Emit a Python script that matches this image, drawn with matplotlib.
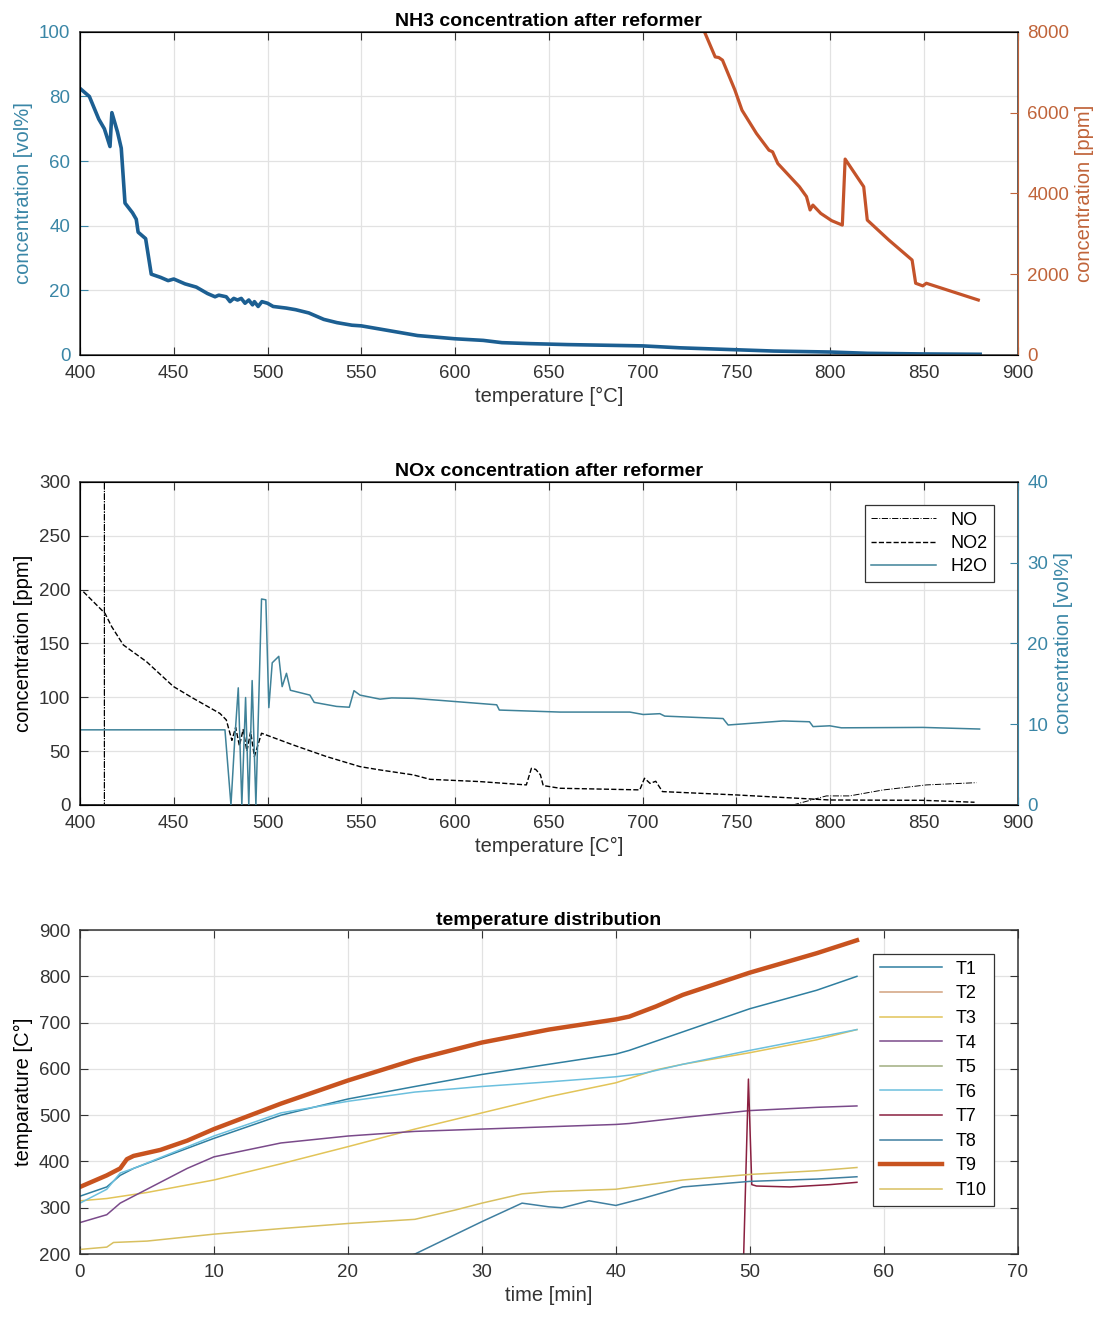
import matplotlib
matplotlib.use("Agg")
import matplotlib.pyplot as plt

plt.rcParams['font.family'] = ['Liberation Sans', 'DejaVu Sans']
plt.rcParams['font.size'] = 12

# --- NH3 after reformer ---
nh3_T = [400, 405, 410, 413, 416, 417, 420, 422, 424, 428, 430, 431, 435, 438, 443, 447, 450,
         456, 462, 468, 472, 474, 478, 480, 482, 484, 486, 488, 490, 492, 493, 495, 497, 500,
         503, 510, 515, 522, 530, 537, 545, 550, 560, 570, 580, 590, 600, 615, 625, 640, 660,
         680, 700, 720, 750, 770, 800, 820, 850, 880]
nh3_vol = [82.5, 80, 73, 70, 64.5, 75, 69, 64, 47, 44, 42, 38, 36, 25, 24, 23, 23.5,
           22, 21, 19, 18, 18.5, 18, 16.5, 17.5, 17, 17.5, 16, 17, 15.5, 16.5, 15, 16.5, 16,
           15, 14.5, 14, 13, 11, 10, 9.2, 9, 8, 7, 6, 5.5, 5, 4.5, 3.8, 3.5, 3.2,
           3, 2.8, 2.2, 1.6, 1.2, 0.9, 0.5, 0.3, 0.2]
ppm_T = [733, 738.7, 740.6, 742.6, 749.2, 753, 760.7, 767.4, 769.3, 772.1, 783.6, 787.4, 789.3,
         790.8, 795, 800.8, 806.5, 808, 817.9, 819.8, 831.3, 843.7, 845.6, 849.4, 851.3, 879]
ppm_val = [8000, 7380, 7365, 7300, 6560, 6060, 5485, 5070, 5030, 4740, 4165, 3920, 3590,
           3710, 3505, 3325, 3215, 4850, 4165, 3340, 2845, 2350, 1775, 1710, 1775, 1360]

# --- NOx after reformer ---
h2o_T = [400, 477.3, 480.5, 482.5, 484.4, 486.3, 488.3, 490, 491.8, 493.8, 496.8, 499.1, 500.7,
         502.5, 506, 507.8, 510.1, 512.2, 522.6, 524.9, 536.8, 543.6, 546.1, 549.3, 560, 566.2,
         577.8, 592, 622.2, 623.6, 656, 693.2, 700.3, 709.2, 711.8, 742.9, 745.6, 774.9, 789,
         790.9, 799.8, 806, 849.5, 879.7]
h2o_vol = [9.3, 9.3, 0, 8, 14.5, 0, 13.3, 0, 15.4, 0, 25.5, 25.4, 12.05,
           17.6, 18.4, 14.65, 16.3, 14.2, 13.6, 12.7, 12.2, 12.1, 14.15, 13.6, 13.1, 13.25,
           13.2, 12.95, 12.4, 11.75, 11.5, 11.5, 11.2, 11.3, 11.0, 10.7, 9.9, 10.4, 10.3,
           9.7, 9.8, 9.55, 9.6, 9.4]
no2_T = [401.8, 413.3, 416.9, 423.1, 435.5, 449.8, 460.4, 474.6, 478, 481, 483, 485, 487, 489,
         491, 493, 496.8, 513.7, 531.5, 549.3, 560, 577.8, 586.6, 613.2, 638, 640.7, 643, 645.5,
         647, 655.9, 698.5, 701, 704, 707, 710.6, 750, 799.8, 849.5, 877]
no2_ppm = [198, 178, 165.6, 148.6, 133, 110, 99, 85, 79, 60, 72, 55, 70, 50, 68, 45,
           66.6, 55.7, 44.9, 35.6, 32.5, 27.9, 23.8, 21.7, 18.6, 34, 33, 28, 18, 15.5, 14, 24.8,
           20, 22, 12.4, 9.3, 4.6, 4.3, 2.5]
no_T = [400, 413, 413, 413, 780.2, 798, 810.4, 828.2, 851.3, 878]
no_ppm = [0, 0, 1000, 0, 0, 8.4, 8.4, 13.9, 18.6, 20.7]

# --- temperature distribution ---
t9_t = [0, 2, 3, 3.5, 4, 6, 8, 10, 15, 20, 25, 30, 35, 40, 41, 43, 45, 50, 55, 58]
t9 = [345, 370, 385, 405, 412, 425, 445, 470, 525, 575, 620, 657, 685, 707, 713, 735, 760, 808, 850, 878]
t1_t = [0, 2, 3, 4, 10, 15, 20, 25, 30, 35, 40, 41, 45, 50, 55, 58]
t1 = [325, 345, 370, 385, 450, 500, 535, 562, 588, 610, 632, 640, 680, 730, 770, 800]
t6_t = [0, 2, 3, 4, 10, 15, 20, 25, 30, 35, 40, 42, 45, 50, 55, 58]
t6 = [310, 340, 375, 385, 455, 505, 530, 550, 562, 572, 583, 590, 610, 640, 668, 685]
t3_t = [0, 2, 5, 10, 15, 20, 25, 30, 35, 40, 43, 45, 50, 55, 58]
t3 = [315, 320, 333, 360, 395, 432, 470, 505, 540, 570, 598, 610, 635, 663, 685]
t4_t = [0, 2, 3, 5, 8, 10, 15, 20, 25, 30, 35, 40, 41, 45, 50, 55, 58]
t4 = [268, 285, 310, 340, 385, 410, 440, 455, 465, 470, 475, 480, 482, 495, 510, 517, 520]
t10_t = [0, 2, 2.5, 5, 10, 15, 20, 25, 28, 30, 33, 35, 40, 45, 50, 55, 58]
t10 = [210, 215, 225, 228, 243, 255, 266, 275, 295, 310, 330, 335, 340, 360, 372, 380, 387]
t8_t = [23, 25, 30, 33, 35, 36, 38, 40, 42, 45, 50, 55, 58]
t8 = [180, 200, 270, 310, 302, 300, 315, 305, 320, 345, 357, 362, 367]
t7_t = [49.5, 49.9, 50.15, 50.5, 53, 56, 58]
t7 = [150, 578, 350, 347, 345, 350, 355]

temp_ticks = list(range(400, 901, 50))

teal = '#3a86a6'
orange = '#c0643a'
dark = '#333333'

fig = plt.figure(figsize=(11.11, 13.17), dpi=100)


def style(ax):
    ax.grid(True, color='#e2e2e2', linewidth=0.9)
    ax.set_axisbelow(True)
    ax.tick_params(direction='in', length=6, top=True, labelsize=13.5, colors=dark, pad=7)
    for s in ax.spines.values():
        s.set_color(dark)
        s.set_linewidth(1.1)


# top
ax1 = fig.add_axes([0.072, 0.7305, 0.844, 0.2453])
ax1.plot(nh3_T, nh3_vol, color='#1c5f92', linewidth=2.6)
ax1.set_xlim(400, 900)
ax1.set_ylim(0, 100)
ax1.set_xticks(temp_ticks)
style(ax1)
ax1.tick_params(axis='y', colors=teal, right=False)
ax1.set_ylabel('concentration [vol%]', color=teal, fontsize=14.5)
ax1.set_xlabel('temperature [°C]', fontsize=14.5, color=dark)
ax1.set_title('NH3 concentration after reformer', fontweight='bold', fontsize=14, pad=4)
ax1b = ax1.twinx()
ax1b.plot(ppm_T, ppm_val, color='#c4532a', linewidth=2.3)
ax1b.set_ylim(0, 8000)
ax1b.set_yticks([0, 2000, 4000, 6000, 8000])
ax1b.tick_params(direction='in', length=6, labelsize=13.5, colors=orange, pad=7)
ax1b.set_ylabel('concentration [ppm]', color=orange, fontsize=14.5)
ax1b.spines['right'].set_color(orange)

# middle
ax2 = fig.add_axes([0.072, 0.3888, 0.844, 0.2453])
l_no, = ax2.plot(no_T, no_ppm, color='black', linestyle='-.', linewidth=0.7, label='NO')
l_no2, = ax2.plot(no2_T, no2_ppm, color='black', linestyle='--', linewidth=1.0, label='NO2')
ax2.set_xlim(400, 900)
ax2.set_ylim(0, 300)
ax2.set_xticks(temp_ticks)
style(ax2)
ax2.spines['bottom'].set_linewidth(1.4)
ax2.tick_params(axis='y', right=False)
ax2.set_ylabel('concentration [ppm]', fontsize=14.5)
ax2.set_xlabel('temperature [C°]', fontsize=14.5, color=dark)
ax2.set_title('NOx concentration after reformer', fontweight='bold', fontsize=14, pad=4)
ax2b = ax2.twinx()
l_h2o, = ax2b.plot(h2o_T, h2o_vol, color='#3f8299', linewidth=1.1, label='H2O')
ax2b.set_ylim(0, 40)
ax2b.set_yticks([0, 10, 20, 30, 40])
ax2b.tick_params(direction='in', length=6, labelsize=13.5, colors=teal, pad=7)
ax2b.set_ylabel('concentration [vol%]', color=teal, fontsize=14.5)
ax2b.spines['right'].set_color(teal)
leg = ax2b.legend(handles=[l_no, l_no2, l_h2o], loc='upper right', fontsize=13,
                  fancybox=False, edgecolor=dark, framealpha=1,
                  borderaxespad=1.3, handlelength=3.6, labelspacing=0.35, borderpad=0.35)
leg.get_frame().set_linewidth(0.9)

# bottom
ax3 = fig.add_axes([0.072, 0.0478, 0.844, 0.246])
series = [
    ('T1', t1_t, t1, '#2f7fa0', 1.1),
    ('T2', [], [], '#d2a27e', 1.1),
    ('T3', t3_t, t3, '#e2c458', 1.1),
    ('T4', t4_t, t4, '#7a4a8a', 1.1),
    ('T5', [], [], '#a0ad80', 1.1),
    ('T6', t6_t, t6, '#6cc0de', 1.1),
    ('T7', t7_t, t7, '#8a2040', 1.1),
    ('T8', t8_t, t8, '#3f7fa0', 1.1),
    ('T9', t9_t, t9, '#c8531f', 3.2),
    ('T10', t10_t, t10, '#d8c060', 1.1),
]
for name, xs, ys, c, lw in series:
    ax3.plot(xs, ys, color=c, linewidth=lw, label=name)
ax3.set_xlim(0, 70)
ax3.set_ylim(200, 900)
style(ax3)
ax3.tick_params(right=True)
ax3.set_ylabel('temparature [C°]', fontsize=14.5)
ax3.set_xlabel('time [min]', fontsize=14.5, color=dark)
ax3.set_title('temperature distribution', fontweight='bold', fontsize=14, pad=4)
leg3 = ax3.legend(loc='upper right', fontsize=13, fancybox=False, edgecolor=dark,
                  framealpha=1, borderaxespad=1.3, handlelength=3.4, labelspacing=0.42)
leg3.get_frame().set_linewidth(0.9)

fig.savefig('out.png', dpi=100)
